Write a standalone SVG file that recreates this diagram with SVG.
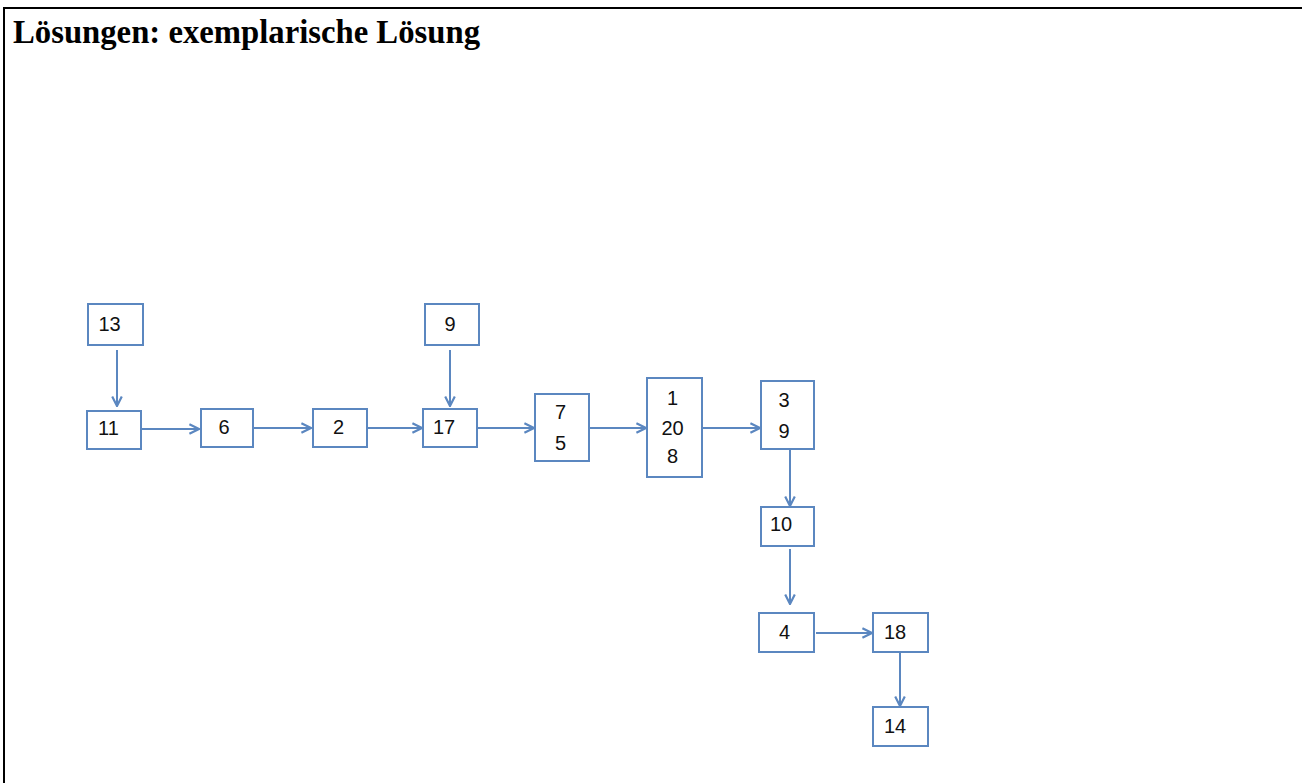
<svg xmlns="http://www.w3.org/2000/svg" width="1302" height="783" viewBox="0 0 1302 783">
<style>
.box{fill:#fff;stroke:#5b87c0;stroke-width:2}
.t{font-family:"Liberation Sans",Arial,sans-serif;font-size:20px;fill:#111;text-anchor:middle}
.c{stroke:#5b87c0;stroke-width:2;fill:none;marker-end:url(#ah)}
</style>
<defs>
<marker id="ah" viewBox="0 0 10 10" refX="9" refY="5" markerWidth="6" markerHeight="6" orient="auto" markerUnits="strokeWidth">
<path d="M1,1 L9,5 L1,9" fill="none" stroke="#5b87c0" stroke-width="1.8"/>
</marker>
</defs>
<rect width="1302" height="783" fill="#fff"/>
<path d="M4,783 V8 H1302" fill="none" stroke="#000" stroke-width="2"/>
<text x="13" y="43" font-family="'Liberation Serif','Times New Roman',serif" font-weight="bold" font-size="34" textLength="467" lengthAdjust="spacingAndGlyphs">Lösungen: exemplarische Lösung</text>
<g id="connectors">
<line class="c" x1="117" y1="350" x2="117" y2="406"/>
<line class="c" x1="450" y1="350" x2="450" y2="406"/>
<line class="c" x1="142" y1="429" x2="199" y2="429"/>
<line class="c" x1="254" y1="428" x2="311" y2="428"/>
<line class="c" x1="368" y1="428" x2="422" y2="428"/>
<line class="c" x1="478" y1="428" x2="534" y2="428"/>
<line class="c" x1="590" y1="428" x2="646" y2="428"/>
<line class="c" x1="702" y1="428" x2="760" y2="428"/>
<line class="c" x1="790" y1="450" x2="790" y2="506"/>
<line class="c" x1="790" y1="549" x2="790" y2="604"/>
<line class="c" x1="816" y1="633" x2="872" y2="633"/>
<line class="c" x1="900" y1="653" x2="900" y2="706"/>
</g>
<g id="n13"><rect class="box" x="88" y="304" width="55" height="41"/><text class="t" x="109.5" y="331">13</text></g>
<g id="n11"><rect class="box" x="87" y="411" width="54" height="38"/><text class="t" x="108.5" y="435">11</text></g>
<g id="n6"><rect class="box" x="201" y="409" width="52" height="38"/><text class="t" x="224" y="434">6</text></g>
<g id="n2"><rect class="box" x="313" y="409" width="54" height="38"/><text class="t" x="338.5" y="434">2</text></g>
<g id="n9a"><rect class="box" x="425" y="304" width="54" height="41"/><text class="t" x="450" y="331">9</text></g>
<g id="n17"><rect class="box" x="423" y="409" width="54" height="38"/><text class="t" x="444" y="434">17</text></g>
<g id="n75"><rect class="box" x="535" y="394" width="54" height="67"/><text class="t" x="560.5" y="419">7</text><text class="t" x="560.5" y="450">5</text></g>
<g id="n1208"><rect class="box" x="647" y="378" width="55" height="99"/><text class="t" x="672.5" y="405">1</text><text class="t" x="672.5" y="435">20</text><text class="t" x="672.5" y="463">8</text></g>
<g id="n39"><rect class="box" x="761" y="381" width="53" height="68"/><text class="t" x="784" y="407">3</text><text class="t" x="784" y="438">9</text></g>
<g id="n10"><rect class="box" x="761" y="507" width="53" height="39"/><text class="t" x="781" y="531">10</text></g>
<g id="n4"><rect class="box" x="759" y="613" width="55" height="39"/><text class="t" x="784.5" y="638.5">4</text></g>
<g id="n18"><rect class="box" x="873" y="613" width="55" height="39"/><text class="t" x="895" y="638.5">18</text></g>
<g id="n14"><rect class="box" x="873" y="707" width="55" height="39"/><text class="t" x="895" y="733">14</text></g>
</svg>
